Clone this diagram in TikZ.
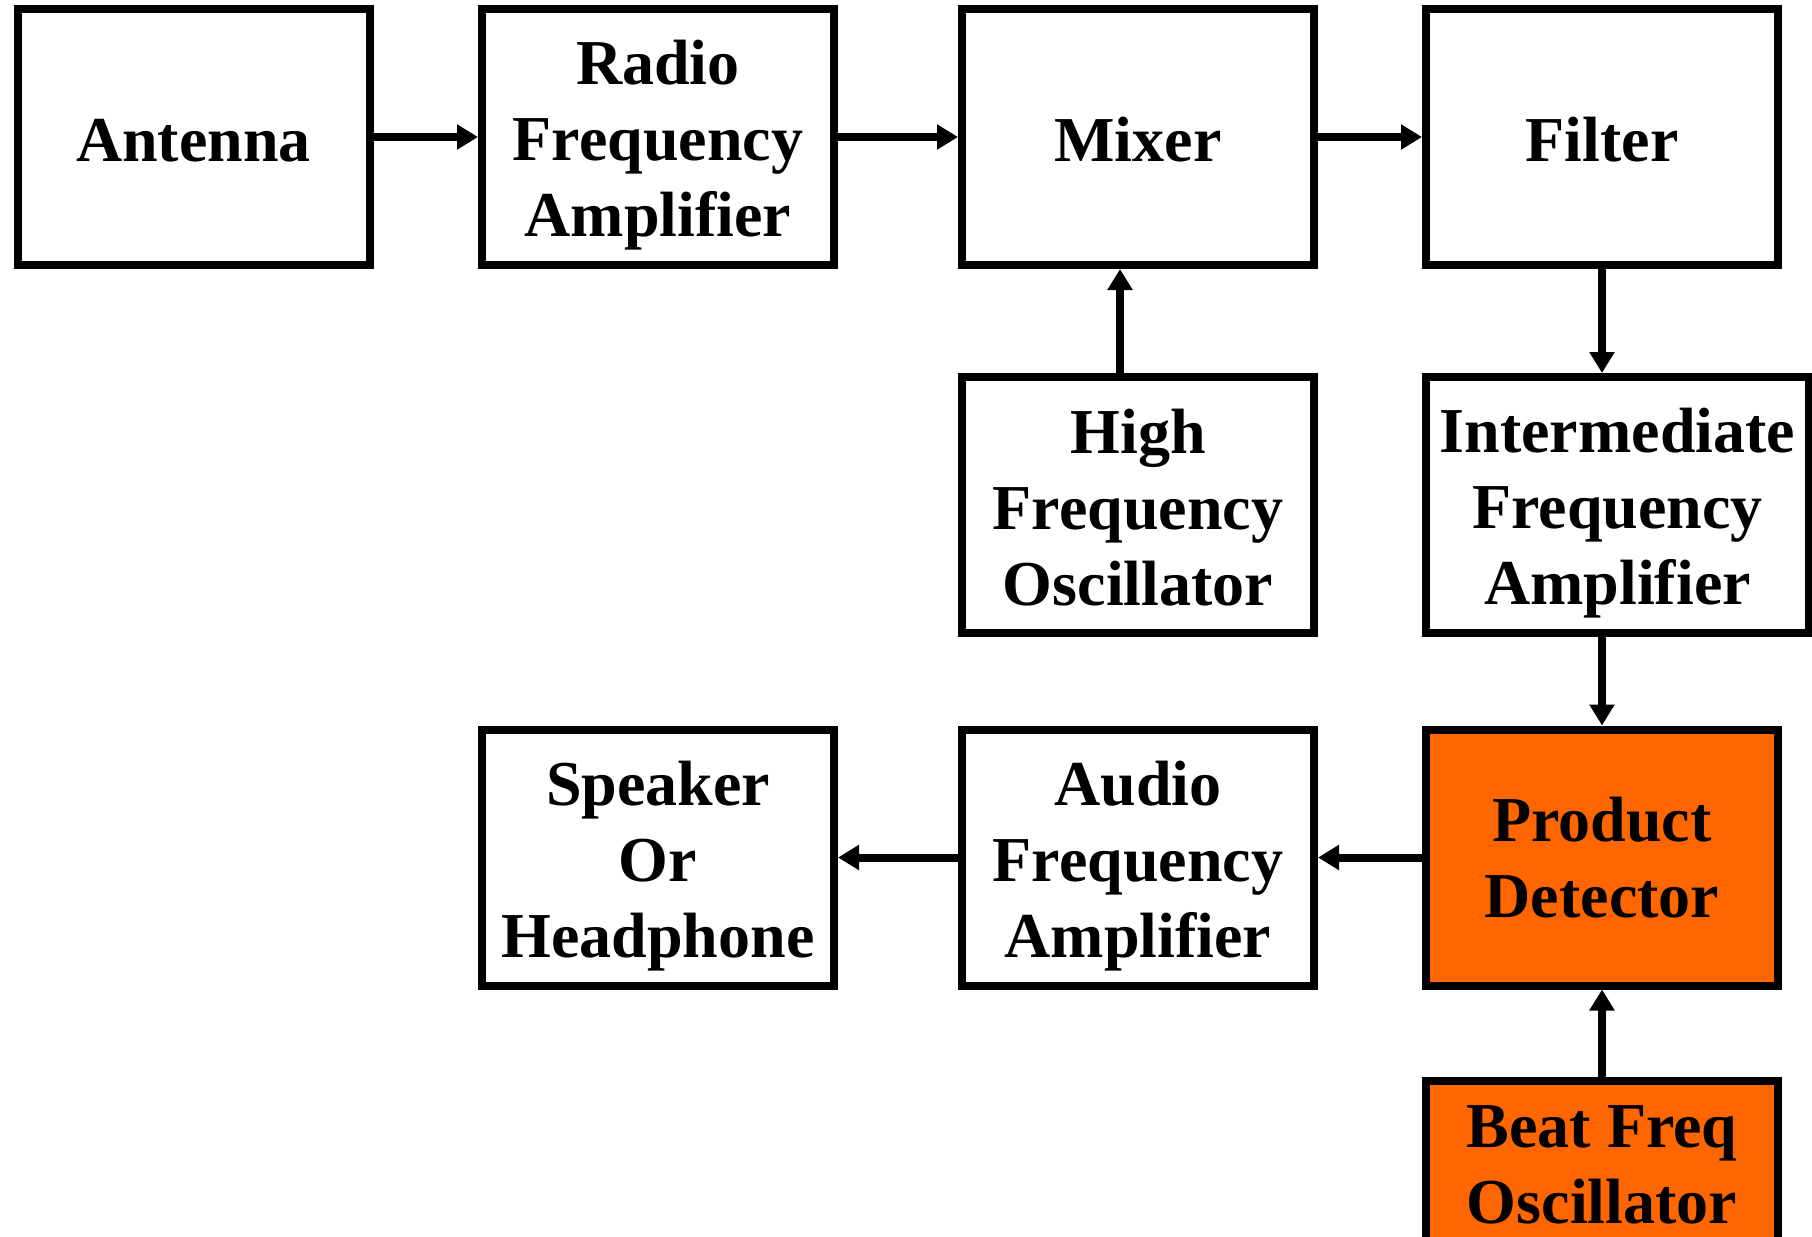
\documentclass[tikz,border=0pt]{standalone}
\usepackage{fontspec}
\setmainfont{Liberation Serif}
\usetikzlibrary{arrows.meta}
\definecolor{pdorange}{RGB}{255,102,0}
\newcommand\upthree{\rule{0pt}{30.5pt}}
\newcommand\uphigh{\rule{0pt}{25pt}}
\newcommand\upone{\rule{0pt}{25pt}}
\tikzset{
  blk/.style={draw=black, line width=4pt, rectangle, inner sep=0pt,
    minimum width=176pt, minimum height=128pt, align=center,
    font=\fontsize{32}{38}\selectfont\bfseries},
  hot/.style={blk, fill=pdorange},
  conn/.style={line width=4pt, -{Triangle[length=10.5pt,width=12pt]}}
}
\begin{document}
\begin{tikzpicture}[x=0.5pt,y=-0.5pt]
\useasboundingbox (0,0) rectangle (1812,1237);
\node[blk] (ant) at (193.5,137) {\upone Antenna};
\node[blk] (rf) at (658,137) {\upthree Radio\\Frequency\\Amplifier};
\node[blk] (mix) at (1138,137) {\upone Mixer};
\node[blk] (fil) at (1602,137) {\upone Filter};
\node[blk] (hfo) at (1138,505) {\uphigh High\\Frequency\\Oscillator};
\node[blk, minimum width=191.5pt] (ifa) at (1617.5,505) {\upthree Intermediate\\Frequency\\Amplifier};
\node[blk] (spk) at (658,857.5) {\upthree Speaker\\Or\\Headphone};
\node[blk] (afa) at (1138,857.5) {\upthree Audio\\Frequency\\Amplifier};
\node[hot] (pd) at (1602,857.5) {Product\\Detector};
\node[hot, minimum height=84pt] (bfo) at (1602,1165) {Beat Freq\\Oscillator};
\draw[conn] (ant.east) -- (rf.west);
\draw[conn] (rf.east) -- (mix.west);
\draw[conn] (mix.east) -- (fil.west);
\draw[conn] ([xshift=-9pt]hfo.north) -- ([xshift=-9pt]mix.south);
\draw[conn] (fil.south) -- (fil.south |- ifa.north);
\draw[conn] (fil.south |- ifa.south) -- (pd.north);
\draw[conn] (pd.west) -- (afa.east);
\draw[conn] (afa.west) -- (spk.east);
\draw[conn] (bfo.north) -- (pd.south);
\end{tikzpicture}
\end{document}
